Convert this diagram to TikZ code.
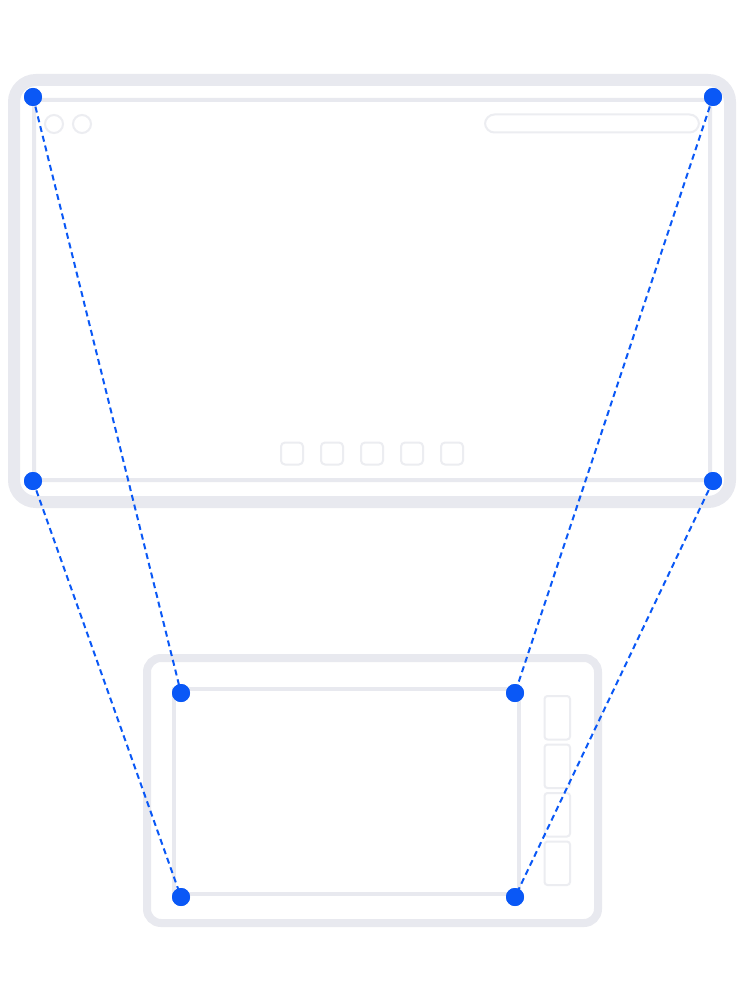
\documentclass[tikz,border=0pt]{standalone}
\usepackage{tikz}
\definecolor{framegray}{HTML}{E8E9EF}
\definecolor{lightgray}{HTML}{ECEDF1}
\definecolor{dotblue}{HTML}{0A58F6}
\begin{document}
\begin{tikzpicture}[x=1pt,y=-1pt,
  frame/.style={draw=framegray,line width=#1},
  thin/.style={draw=lightgray,line width=2},
  dot/.style={circle,fill=dotblue,inner sep=0pt,minimum size=18},
  guide/.style={draw=dotblue,line width=2,dash pattern=on 6 off 4}]
\useasboundingbox[fill=white] (0,0) rectangle (744,1000);
% large device
\draw[frame=12,rounded corners=22] (14,80) rectangle (730,502);
\draw[frame=4,rounded corners=6] (34,100) rectangle (710,480);
\draw[thin] (54,124) circle (9);
\draw[thin] (82,124) circle (9);
\draw[thin,rounded corners=9.5] (485,114.5) rectangle (699,132.5);
\foreach \cx in {292,332,372,412,452}
  \draw[thin,rounded corners=4] (\cx-11,442.5) rectangle (\cx+11,464.5);
% small device
\draw[frame=8,rounded corners=14] (147,658) rectangle (598,923);
\draw[frame=4] (174,689) rectangle (519,894);
\foreach \ty in {696,744.5,793,841.5}
  \draw[thin,rounded corners=3] (544.5,\ty) rectangle (570,\ty+43.5);
% dots
\node[dot] (btl) at (33,97) {};
\node[dot] (btr) at (713,97) {};
\node[dot] (bbl) at (33,481) {};
\node[dot] (bbr) at (713,481) {};
\node[dot] (stl) at (181,693) {};
\node[dot] (str) at (515,693) {};
\node[dot] (sbl) at (181,897) {};
\node[dot] (sbr) at (515,897) {};
% guides
\draw[guide] (btl.center) -- (stl.center);
\draw[guide] (btr.center) -- (str.center);
\draw[guide] (bbl.center) -- (sbl.center);
\draw[guide] (bbr.center) -- (sbr.center);
\foreach \n in {btl,btr,bbl,bbr,stl,str,sbl,sbr}
  \fill[dotblue] (\n) circle (9);
\end{tikzpicture}
\end{document}
